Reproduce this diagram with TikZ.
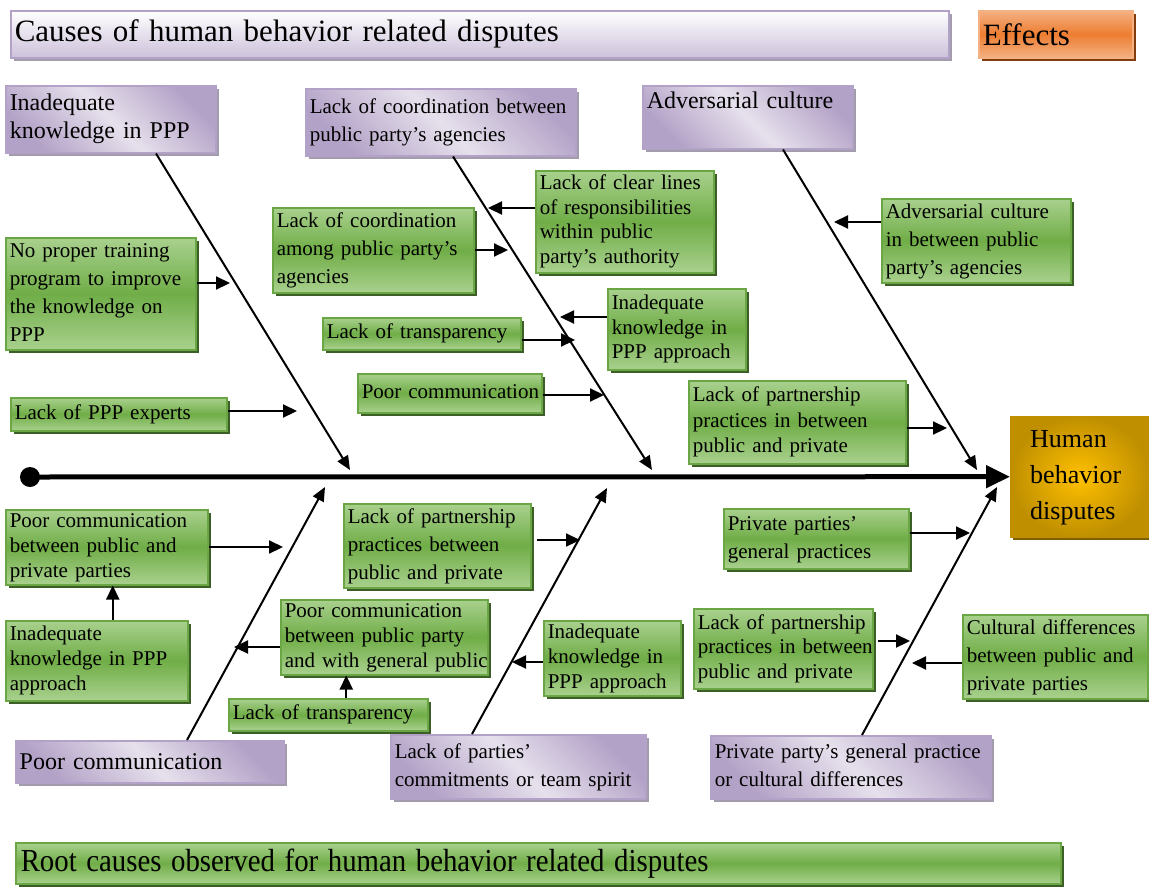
\documentclass[tikz,border=0pt]{standalone}
\usepackage{fontspec}
\setmainfont{Liberation Serif}
\usepackage{graphicx}
\usetikzlibrary{shadows,arrows.meta,calc}
\definecolor{gl}{HTML}{A9D18E}
\definecolor{gm}{HTML}{70AD47}
\definecolor{gb}{HTML}{6BA644}
\definecolor{gs}{HTML}{3B5F26}
\definecolor{pd}{HTML}{B3A2C7}
\definecolor{pl}{HTML}{E6E0EC}
\definecolor{pb}{HTML}{B3A2C7}
\definecolor{ps}{HTML}{A39CAD}
\definecolor{tb}{HTML}{CCC1DA}
\definecolor{ol}{HTML}{F4B183}
\definecolor{om}{HTML}{ED7D31}
\definecolor{os}{HTML}{843C0C}
\definecolor{hy}{HTML}{FFC000}
\definecolor{hd}{HTML}{BF8F00}
\definecolor{hs}{HTML}{7F6000}
\newcommand\lns[1]{\begin{tabular}{@{}l@{}}#1\end{tabular}}
\begin{document}
\begin{tikzpicture}[x=1pt,y=-1pt,
  base/.style={anchor=north west, inner xsep=4pt, inner ysep=0pt, align=left},
  bx/.code 2 args={\pgfmathsetmacro\bxw{#1-8}\tikzset{text width=\bxw pt, minimum width=#1pt, minimum height=#2pt}},
  fs/.style 2 args={font=\fontsize{#1}{#2}\selectfont},
  green/.style={base, draw=gb, line width=1.5pt, top color=gl, bottom color=gl, middle color=gm,
    drop shadow={shadow xshift=3pt, shadow yshift=-3pt, fill=gs, opacity=1}, fs={21}{26}},
  purple/.style={base, draw=pb, line width=1.5pt, top color=pd, bottom color=pd, middle color=pl, shading angle=-45,
    drop shadow={shadow xshift=3pt, shadow yshift=-3pt, fill=ps, opacity=1}, fs={24}{28}},
  titlebar/.style={base, draw=pb, line width=1.5pt, top color=white, bottom color=tb,
    drop shadow={shadow xshift=3pt, shadow yshift=-3pt, fill=ps, opacity=1}, fs={31}{36}},
  effbox/.style={base, inner xsep=2pt, draw=ol, line width=1.5pt, top color=ol, bottom color=ol, middle color=om,
    drop shadow={shadow xshift=3pt, shadow yshift=-3pt, fill=os, opacity=1}, fs={31}{36}},
  humbox/.style={anchor=north west, inner xsep=20pt, inner ysep=0pt, align=left, shading=radial, inner color=hy, outer color=hd,
    drop shadow={shadow xshift=3pt, shadow yshift=-3pt, fill=hs, opacity=1}, fs={26}{36}},
  bone/.style={line width=2pt, -{Triangle[length=14pt,width=12pt]}},
  sub/.style={line width=2.2pt, -{Triangle[length=14pt,width=13pt]}},
  spine/.style={line width=5pt, -{Triangle[length=24pt,width=22pt]}}
]
\useasboundingbox (0,0) rectangle (1149,889);

% headers
\node[titlebar, bx={938}{47}] (title) at (10,10) {Causes of human behavior related disputes};
\node[effbox, bx={154}{47}] (eff) at (978,10) {Effects};
\node[green, bx={1043}{41}, fs={32}{36}, inner xsep=5pt] (root) at (15,842) {\scalebox{0.9}[1]{Root causes observed for human behavior related disputes}};

% head
\node[humbox, minimum width=139pt, minimum height=121pt, text width=99pt] (hum) at (1010,416) {\lns{Human\\behavior\\disputes}};

% main categories (top)
\node[purple, bx={210}{67}] (p1) at (5,85) {\lns{Inadequate\\knowledge in PPP}};
\node[purple, bx={270}{67}, fs={21}{28}] (p2) at (305,88) {\lns{Lack of coordination between\\public party's agencies}};
\node[purple, bx={210}{63}] (p3) at (642,85) {\lns{Adversarial culture\\ \mbox{}}};
% main categories (bottom)
\node[purple, bx={268}{42}] (p4) at (15,740) {Poor communication};
\node[purple, bx={255}{64}, fs={21}{28}] (p5) at (390,734) {\lns{Lack of parties'\\commitments or team spirit}};
\node[purple, bx={280}{63}, fs={21}{28}] (p6) at (710,735) {\lns{Private party's general practice\\or cultural differences}};

% sub causes top
\node[green, bx={178}{102}, fs={21}{24.5}] (g1) at (535,170) {\lns{Lack of clear lines\\of responsibilities\\within public\\party's authority}};
\node[green, bx={201}{85}, fs={21}{28}] (g2) at (272,207) {\lns{Lack of coordination\\among public party's\\agencies}};
\node[green, bx={190}{111}, fs={21}{28}] (g3) at (5,237) {\lns{No proper training\\program to improve\\the knowledge on\\PPP}};
\node[green, bx={189}{79}, fs={21}{28}] (g4) at (881,198) {\lns{Adversarial culture\\in between public\\party's agencies}};
\node[green, bx={198}{32}] (g5) at (322,317) {Lack of transparency};
\node[green, bx={138}{81}, fs={21}{24.5}] (g6) at (607,288) {\lns{Inadequate\\knowledge in\\PPP approach}};
\node[green, bx={216}{33}] (g7) at (10,397) {Lack of PPP experts};
\node[green, bx={184}{39}] (g8) at (357,373) {\lns{Poor communication}};
\node[green, bx={217}{83}, fs={21}{25.5}] (g9) at (688,380) {\lns{Lack of partnership\\practices in between\\public and private}};

% sub causes bottom
\node[green, bx={202}{75}, fs={21}{25}] (g10) at (5,509) {\lns{Poor communication\\between public and\\private parties}};
\node[green, bx={187}{80}, fs={21}{28}] (g11) at (343,503) {\lns{Lack of partnership\\practices between\\public and private}};
\node[green, bx={185}{60}, fs={21}{28}] (g12) at (723,508) {\lns{Private parties'\\general practices}};
\node[green, bx={182}{80}, fs={21}{25}] (g13) at (5,620) {\lns{Inadequate\\knowledge in PPP\\approach}};
\node[green, bx={207}{73}, fs={21}{25}] (g14) at (280,599) {\lns{Poor communication\\between public party\\and with general public}};
\node[green, bx={137}{73}, fs={21}{25}] (g15) at (543,620) {\lns{Inadequate\\knowledge in\\PPP approach}};
\node[green, bx={179}{80}, fs={21}{24.5}] (g16) at (693,608) {\lns{Lack of partnership\\practices in between\\public and private}};
\node[green, bx={185}{83}, fs={21}{28}] (g17) at (962,614) {\lns{Cultural differences\\between public and\\private parties}};
\node[green, bx={199}{32}] (g18) at (228,698) {Lack of transparency};

% spine
\node[circle, fill=black, inner sep=0pt, minimum size=20pt] (dot) at (30,477) {};
\draw[spine] (dot.center) -- (hum.west);

% bones
\coordinate (e1) at (350,470);
\coordinate (e2) at (652,470);
\coordinate (e3) at (977,470);
\coordinate (e4) at (325,487);
\coordinate (e5) at (607,488);
\coordinate (e6) at (997,487);
\draw[bone] ([xshift=151pt]p1.south west) -- (e1);
\draw[bone] ([xshift=148pt]p2.south west) -- (e2);
\draw[bone] ([xshift=141pt]p3.south west) -- (e3);
\draw[bone] ([xshift=172pt]p4.north west) -- (e4);
\draw[bone] ([xshift=82pt]p5.north west) -- (e5);
\draw[bone] ([xshift=152pt]p6.north west) -- (e6);

% sub arrows
\coordinate (t1) at (230,283);
\coordinate (t2) at (297,411);
\coordinate (t3) at (508,250);
\coordinate (t4) at (488,208);
\coordinate (t5) at (575,340);
\coordinate (t6) at (560,317);
\coordinate (t7) at (604,395);
\coordinate (t8) at (834,222);
\coordinate (t9) at (947,428);
\coordinate (t10) at (283,547);
\coordinate (t11) at (580,540);
\coordinate (t12) at (512,662);
\coordinate (t13) at (970,533);
\coordinate (t14) at (910,641);
\coordinate (t15) at (912,663);
\coordinate (t16) at (234,647);
\draw[sub] (g3.east |- t1) -- (t1);
\draw[sub] (g7.east |- t2) -- (t2);
\draw[sub] (g2.east |- t3) -- (t3);
\draw[sub] (g1.west |- t4) -- (t4);
\draw[sub] (g5.east |- t5) -- (t5);
\draw[sub] (g6.west |- t6) -- (t6);
\draw[sub] (g8.east |- t7) -- (t7);
\draw[sub] (g4.west |- t8) -- (t8);
\draw[sub] (g9.east |- t9) -- (t9);
\draw[sub] (g10.east |- t10) -- (t10);
\draw[sub] ([xshift=5pt]g11.east |- t11) -- (t11);
\draw[sub] (g15.west |- t12) -- (t12);
\draw[sub] (g12.east |- t13) -- (t13);
\draw[sub] ([xshift=4pt]g16.east |- t14) -- (t14);
\draw[sub] (g17.west |- t15) -- (t15);
\draw[sub] (g14.west |- t16) -- (t16);
\draw[sub] ([xshift=16pt]g13.north) -- ([xshift=16pt]g13.north |- g10.south);
\draw[sub] ([xshift=18pt]g18.north) -- ([xshift=18pt]g18.north |- g14.south);
\end{tikzpicture}
\end{document}
